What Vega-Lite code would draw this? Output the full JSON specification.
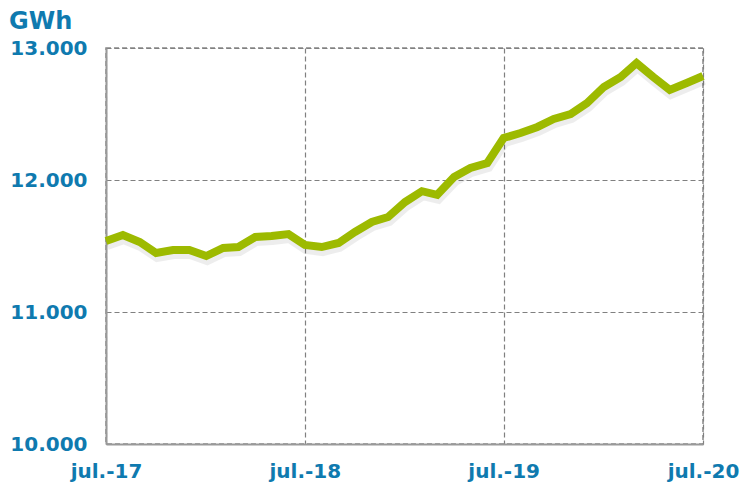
{
  "$schema": "https://vega.github.io/schema/vega-lite/v6.json",
  "width": 597,
  "height": 396,
  "autosize": {"type": "none"},
  "padding": {"left": 106, "top": 48, "right": 40, "bottom": 38},
  "background": "white",
  "title": {
    "text": "GWh",
    "anchor": "start",
    "frame": "group",
    "dx": -97,
    "dy": 24,
    "offset": 9,
    "baseline": "alphabetic",
    "font": "DejaVu Sans",
    "fontSize": 24,
    "fontWeight": "bold",
    "color": "#0F7AAF"
  },
  "config": {
    "view": {"stroke": "#888888", "strokeWidth": 1.5, "strokeDash": [5, 3]},
    "axis": {
      "labelFont": "DejaVu Sans",
      "labelFontSize": 20,
      "labelFontWeight": "bold",
      "labelColor": "#0F7AAF",
      "ticks": false,
      "grid": true,
      "gridColor": "#808080",
      "gridDash": [5, 3],
      "gridWidth": 1.2,
      "domainColor": "#999999",
      "domainWidth": 2,
      "title": null,
      "labelFlush": false,
      "labelOverlap": false
    }
  },
  "data": {
    "values": [
      {"date": "2017-07-01", "gwh": 11538},
      {"date": "2017-08-01", "gwh": 11583},
      {"date": "2017-09-01", "gwh": 11530},
      {"date": "2017-10-01", "gwh": 11447},
      {"date": "2017-11-01", "gwh": 11470},
      {"date": "2017-12-01", "gwh": 11470},
      {"date": "2018-01-01", "gwh": 11424},
      {"date": "2018-02-01", "gwh": 11485},
      {"date": "2018-03-01", "gwh": 11492},
      {"date": "2018-04-01", "gwh": 11568},
      {"date": "2018-05-01", "gwh": 11576},
      {"date": "2018-06-01", "gwh": 11590},
      {"date": "2018-07-01", "gwh": 11508},
      {"date": "2018-08-01", "gwh": 11492},
      {"date": "2018-09-01", "gwh": 11523},
      {"date": "2018-10-01", "gwh": 11606},
      {"date": "2018-11-01", "gwh": 11682},
      {"date": "2018-12-01", "gwh": 11720},
      {"date": "2019-01-01", "gwh": 11833},
      {"date": "2019-02-01", "gwh": 11915},
      {"date": "2019-03-01", "gwh": 11888},
      {"date": "2019-04-01", "gwh": 12023},
      {"date": "2019-05-01", "gwh": 12091},
      {"date": "2019-06-01", "gwh": 12129},
      {"date": "2019-07-01", "gwh": 12318},
      {"date": "2019-08-01", "gwh": 12356},
      {"date": "2019-09-01", "gwh": 12402},
      {"date": "2019-10-01", "gwh": 12462},
      {"date": "2019-11-01", "gwh": 12500},
      {"date": "2019-12-01", "gwh": 12583},
      {"date": "2020-01-01", "gwh": 12705},
      {"date": "2020-02-01", "gwh": 12780},
      {"date": "2020-03-01", "gwh": 12886},
      {"date": "2020-04-01", "gwh": 12780},
      {"date": "2020-05-01", "gwh": 12682},
      {"date": "2020-06-01", "gwh": 12735},
      {"date": "2020-07-01", "gwh": 12788}
    ]
  },
  "encoding": {
    "x": {
      "field": "date",
      "type": "temporal",
      "scale": {"type": "utc", "domain": ["2017-07-01", "2020-07-01"], "nice": false},
      "axis": {
        "values": [
          {"year": 2017, "month": 7, "date": 1, "utc": true},
          {"year": 2018, "month": 7, "date": 1, "utc": true},
          {"year": 2019, "month": 7, "date": 1, "utc": true},
          {"year": 2020, "month": 7, "date": 1, "utc": true}
        ],
        "labelExpr": "'jul.-' + utcFormat(datum.value, '%y')",
        "labelPadding": 17,
        "labelAlign": "center"
      }
    },
    "y": {
      "field": "gwh",
      "type": "quantitative",
      "scale": {"domain": [10000, 13000], "nice": false, "zero": false},
      "axis": {
        "values": [10000, 11000, 12000, 13000],
        "labelExpr": "replace(format(datum.value, ','), ',', '.')",
        "labelPadding": 19,
        "labelBaseline": "middle"
      }
    }
  },
  "layer": [
    {
      "mark": {"type": "line", "color": "#000000", "opacity": 0.07, "strokeWidth": 10, "xOffset": 1, "yOffset": 4}
    },
    {
      "mark": {"type": "line", "color": "#9DBA00", "strokeWidth": 8}
    }
  ]
}
